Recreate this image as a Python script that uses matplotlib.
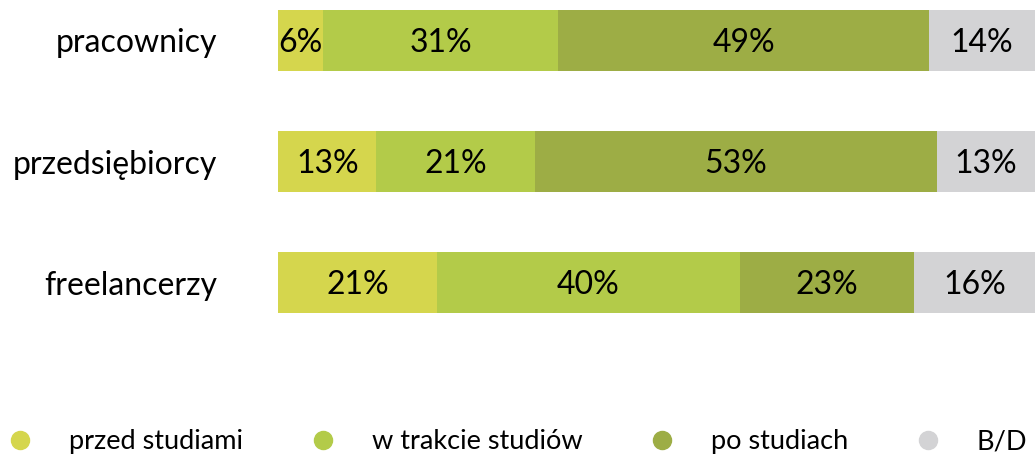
import matplotlib
matplotlib.use("Agg")
import matplotlib.pyplot as plt
from matplotlib.lines import Line2D

plt.rcParams['font.family'] = ['Lato', 'DejaVu Sans']

categories = ["pracownicy", "przedsiębiorcy", "freelancerzy"]
series_names = ["przed studiami", "w trakcie studiów", "po studiach", "B/D"]
przed = [6, 13, 21]
w_trakcie = [31, 21, 40]
po = [49, 53, 23]
bd = [14, 13, 16]
colors = ["#d5d64d", "#b3cb49", "#9dad45", "#d3d3d5"]

fig = plt.figure(figsize=(10.35, 4.57), dpi=100)
ax = fig.add_axes([278 / 1035, 1 - 313 / 457, 1 - 278 / 1035, 303 / 457])

ypos = list(range(len(categories)))
left = [0] * len(categories)
for name, vals, col in zip(series_names, [przed, w_trakcie, po, bd], colors):
    ax.barh(ypos, vals, left=left, height=0.5, color=col, label=name)
    for y, l, v in zip(ypos, left, vals):
        ax.text(l + v / 2, y + 0.02, f"{v}%", ha="center", va="center",
                fontsize=23, color="black")
    left = [a + b for a, b in zip(left, vals)]

ax.set_xlim(0, 100)
ax.set_ylim(2.25, -0.25)
ax.set_yticks(ypos)
ax.set_yticklabels(categories, fontsize=23)
ax.tick_params(axis="y", length=0, pad=44)
ax.set_xticks([])
for s in ax.spines.values():
    s.set_visible(False)

handles = [Line2D([], [], marker="o", linestyle="none", markersize=13,
                  markerfacecolor=c, markeredgecolor=c) for c in colors]
fig.legend(handles, series_names, loc="lower left", bbox_to_anchor=(8 / 1035, 0.006),
           ncol=4, frameon=False, fontsize=19.5, handlelength=0.9,
           handletextpad=1.35, columnspacing=2.5, borderaxespad=0, borderpad=0)

fig.savefig("out.png", dpi=100)
